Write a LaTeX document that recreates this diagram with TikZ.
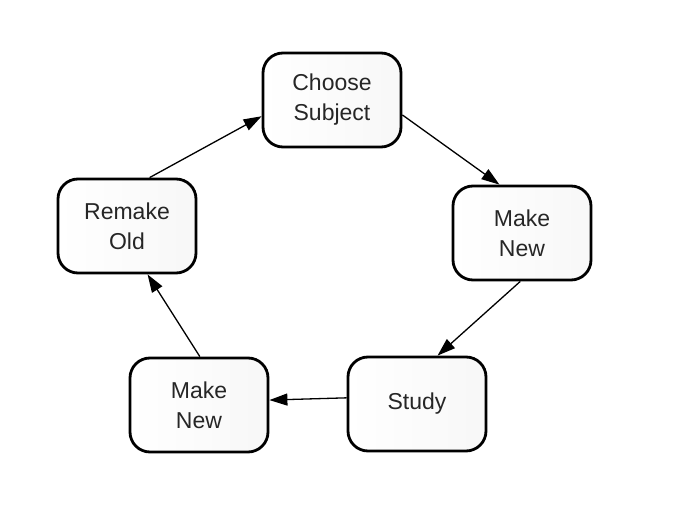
\documentclass[tikz,border=0pt]{standalone}
\usepackage{fontspec}
\setmainfont{Liberation Sans}
\usetikzlibrary{arrows.meta}
\begin{document}
\begin{tikzpicture}[x=1pt,y=-1pt,
  box/.style={draw=black, line width=2.8pt, rounded corners=20pt,
    minimum width=138pt, minimum height=94pt, align=center,
    left color=white, right color=black!3, font=\fontsize{23}{30}\selectfont, text=black!85},
  conn/.style={line width=1.3pt, -{Triangle[length=18pt,width=12pt]}}]
\useasboundingbox (0,0) rectangle (673,518);
\node[box] (cs) at (332,100) {Choose\\Subject};
\node[box] (mr) at (522,233) {Make\\New};
\node[box] (st) at (417,404) {Study};
\node[box] (ml) at (199,405) {Make\\New};
\node[box] (ro) at (127,226) {Remake\\Old};
\draw[conn] (ro.65) -- (cs.193);
\draw[conn] (cs.-12) -- (mr.115);
\draw[conn] (mr.268) -- (st.67);
\draw[conn] (st.175) -- (ml.4);
\draw[conn] (ml.89) -- (ro.293);
\end{tikzpicture}
\end{document}
